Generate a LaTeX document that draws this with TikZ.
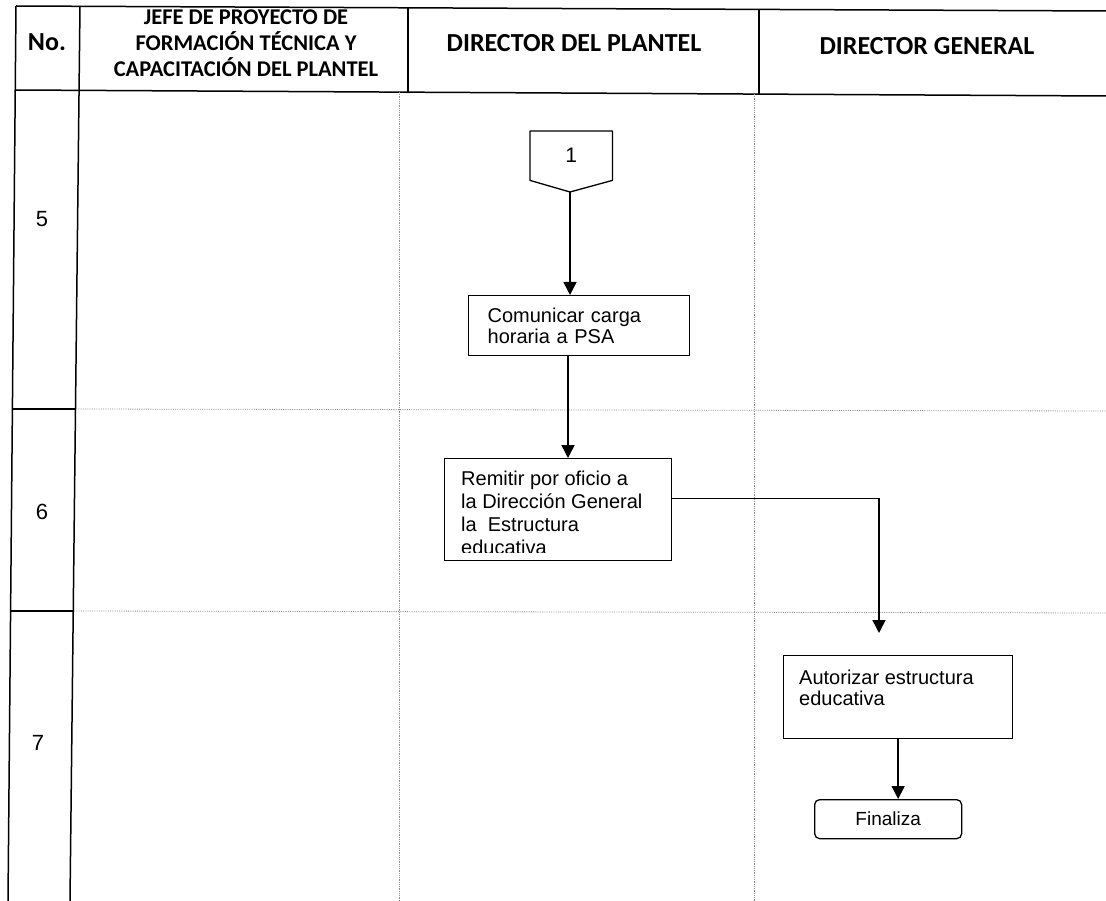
\documentclass[tikz,border=0pt]{standalone}
\usepackage{fontspec}
\setmainfont{Liberation Sans}
\newfontfamily\headfont{Carlito}
\usetikzlibrary{arrows.meta,calc}

\begin{document}
\begin{tikzpicture}[x=1pt, y=-1pt,
  rule/.style={line width=1.5pt},
  lanerule/.style={densely dotted, line width=0.8pt, black!45},
  flow/.style={line width=1.5pt, -{Triangle[width=13pt,length=13pt]}},
  headtext/.style={font=\headfont\bfseries\fontsize{26}{27}\selectfont, align=center, inner sep=0pt},
  headsmall/.style={font=\headfont\bfseries\fontsize{22.5}{26}\selectfont, align=center, inner sep=0pt},
  numtext/.style={font=\fontsize{22}{24}\selectfont, inner sep=0pt},
  procbox/.style={draw, line width=1.3pt, rectangle, inner sep=0pt, anchor=north west},
  endbox/.style={draw, line width=1.3pt, rounded corners=5pt, inner sep=0pt, anchor=north west,
    font=\fontsize{19}{21}\selectfont},
]
\useasboundingbox (0,0) rectangle (1106,901);

% --- table frame ---
\draw[rule] (16,6) -- (1106,11);
\draw[rule] (15,90) -- (1106,96);
\draw[rule] (16,6) -- (8,901);
\draw[rule] (80,6) -- (70,901);
\draw[rule] (408,7) -- (408,92);
\draw[rule] (759,9) -- (759,94);
% row separators inside the number column
\draw[rule] (12,409) -- (76,409);
\draw[rule] (10,611) -- (74,611);
% faint lane and row guides in the body
\draw[lanerule] (76,409) -- (1106,411);
\draw[lanerule] (74,611) -- (1106,613);
\draw[lanerule] (399,92) -- (399,901);
\draw[lanerule] (754,94) -- (754,901);

% --- header ---
\node[headtext] (hno) at (47,42) {No.};
\node[headsmall] (hjefe) at (246,43) {JEFE DE PROYECTO DE\\FORMACIÓN TÉCNICA Y\\CAPACITACIÓN DEL PLANTEL};
\node[headtext] (hdir) at (574,43) {DIRECTOR DEL PLANTEL};
\node[headtext] (hgen) at (927,46) {DIRECTOR GENERAL};

% --- step numbers ---
\node[numtext] (n5) at (42,219) {5};
\node[numtext] (n6) at (42,512) {6};
\node[numtext] (n7) at (38,743) {7};

% --- off-page connector ---
\node[minimum width=82pt, minimum height=49pt, inner sep=0pt, anchor=north west,
  font=\fontsize{21}{23}\selectfont] (c1) at (530,131) {1};
\coordinate (c1tip) at (570,192);
\draw[line width=1.3pt, line join=round]
  (c1.north west) -- (c1.north east) -- (c1.south east) -- (c1tip) -- (c1.south west) -- cycle;

% --- process boxes ---
\node[procbox, minimum width=221pt, minimum height=60pt, text width=183pt,
  align=left, font=\fontsize{20}{21.3}\selectfont] (com) at (468,295)
  {Comunicar carga\\horaria a PSA};

\node[procbox, minimum width=227pt, minimum height=102pt] (rem) at (444,458) {};
\begin{scope}
  \clip ($(rem.north west)+(1,1)$) rectangle (670,552);
  \node[font=\fontsize{20}{23}\selectfont, align=left, inner sep=0pt, anchor=north west]
    (remtext) at (461,471)
    {Remitir por oficio a\\la Dirección General\\la\ \ Estructura\\educativa};
\end{scope}

\node[procbox, minimum width=229pt, minimum height=83pt] (aut) at (783,655) {};
\node[font=\fontsize{20}{20.5}\selectfont, align=left, inner sep=0pt, anchor=north west]
  (auttext) at (799,670) {Autorizar estructura\\educativa};

\node[endbox, minimum width=147pt, minimum height=39pt] (fin) at (814,799) {Finaliza};

% --- connectors ---
\coordinate (drop) at (879,633);
\draw[flow] (c1tip) -- (c1tip |- com.north);
\draw[flow] ($(c1tip |- com.south)+(-2,0)$) -- ($(c1tip |- rem.north)+(-2,0)$);
\draw[flow] ($(rem.east)+(0,-11)$) -| (drop);
\draw[flow] (aut.south) -- (aut.south |- fin.north);
\end{tikzpicture}
\end{document}
